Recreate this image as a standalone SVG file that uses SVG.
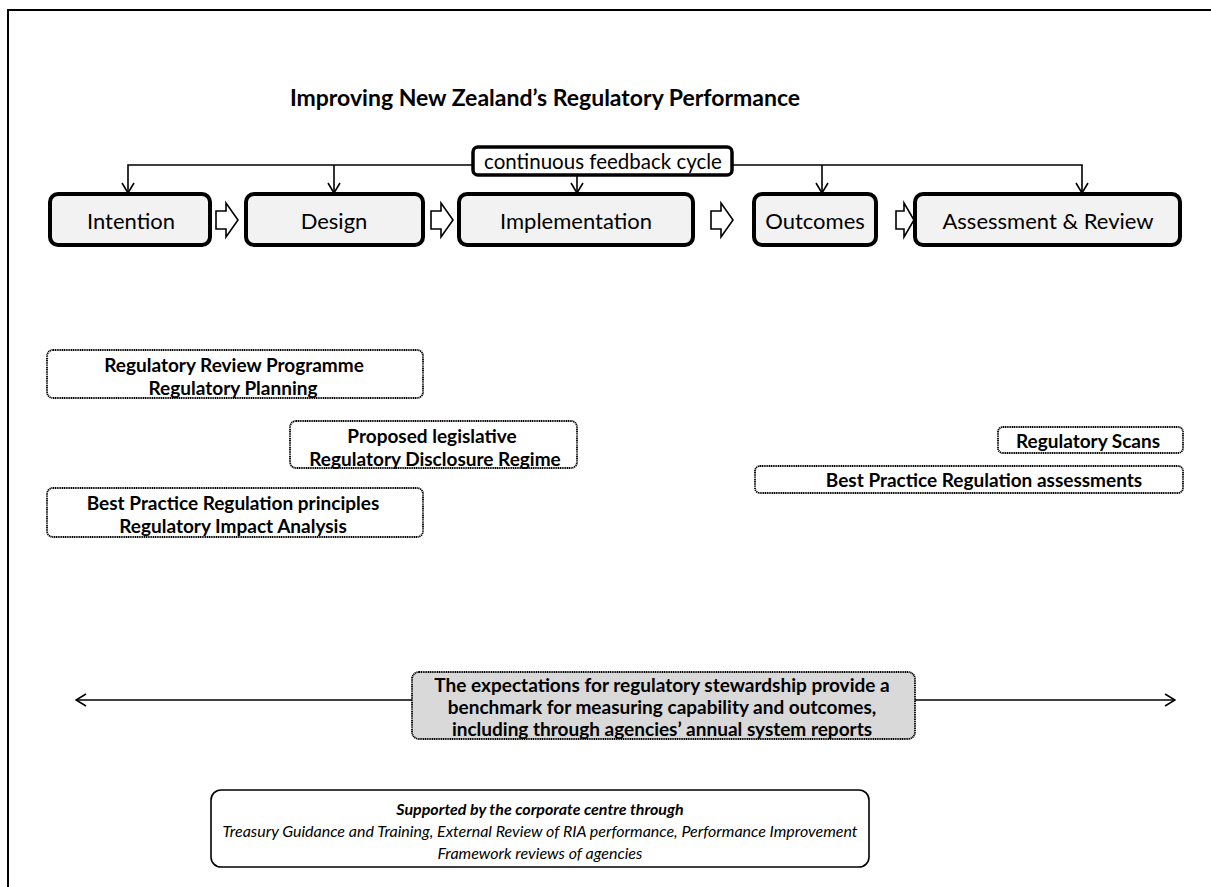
<svg xmlns="http://www.w3.org/2000/svg" width="1211" height="887" viewBox="0 0 1211 887">
<defs>
<style>
text{font-family:Lato,"Open Sans","Liberation Sans",sans-serif;fill:#000;text-anchor:middle;dominant-baseline:central}
.stage rect{fill:#f2f2f2;stroke:#000;stroke-width:4}
.stage text{font-size:22px}
.tool rect{fill:#fff;stroke:#000;stroke-width:1.8;stroke-dasharray:1.2 0.6}
.tool text{font-size:19px;font-weight:bold}
.conn{fill:none;stroke:#000;stroke-width:1.6}
.hollow{fill:#fff;stroke:#000;stroke-width:1.6}
</style>
<marker id="v" viewBox="0 0 12 14" refX="11" refY="7" markerWidth="12" markerHeight="14" markerUnits="userSpaceOnUse" orient="auto">
<path d="M1,1 L11,7 L1,13" fill="none" stroke="#000" stroke-width="1.6"/>
</marker>
</defs>
<rect x="0" y="0" width="1211" height="887" fill="#fff"/>
<path d="M8,887 V10 H1211" fill="none" stroke="#000" stroke-width="2"/>
<text x="545" y="97" font-size="23" font-weight="bold">Improving New Zealand’s Regulatory Performance</text>

<g id="connectors">
<path class="conn" d="M473,165 H128 V193" marker-end="url(#v)"/>
<path class="conn" d="M334,165 V193" marker-end="url(#v)"/>
<path class="conn" d="M577,175 V193" marker-end="url(#v)"/>
<path class="conn" d="M732,165 H1082 V193" marker-end="url(#v)"/>
<path class="conn" d="M822,165 V193" marker-end="url(#v)"/>
<path class="hollow" d="M216,211 h10 v-8 l12,17 l-12,17 v-8 h-10 z"/>
<path class="hollow" d="M431,211 h10 v-8 l12,17 l-12,17 v-8 h-10 z"/>
<path class="hollow" d="M711,211 h10 v-8 l12,17 l-12,17 v-8 h-10 z"/>
<path class="hollow" d="M896,211 h8 v-8 l10,17 l-10,17 v-8 h-8 z"/>
<path class="conn" d="M412,700 H76" marker-end="url(#v)"/>
<path class="conn" d="M915,700 H1175" marker-end="url(#v)"/>
</g>

<g id="feedback">
<rect x="473" y="147" width="259" height="28" rx="5" fill="#fff" stroke="#000" stroke-width="3.5"/>
<text x="603" y="161" font-size="20.5">continuous feedback cycle</text>
</g>

<g id="intention" class="stage"><rect x="50" y="194" width="160" height="51" rx="8"/><text x="131" y="220">Intention</text></g>
<g id="design" class="stage"><rect x="246" y="194" width="177" height="51" rx="8"/><text x="334" y="220">Design</text></g>
<g id="implementation" class="stage"><rect x="459" y="194" width="234" height="51" rx="8"/><text x="576" y="220">Implementation</text></g>
<g id="outcomes" class="stage"><rect x="754" y="194" width="122" height="51" rx="8"/><text x="815" y="220">Outcomes</text></g>
<g id="assessment" class="stage"><rect x="915" y="194" width="265" height="51" rx="8"/><text x="1048" y="220">Assessment &amp; Review</text></g>

<g id="review-programme" class="tool"><rect x="47" y="350" width="376" height="48" rx="6"/><text x="234" y="364">Regulatory Review Programme</text><text x="233" y="387">Regulatory Planning</text></g>
<g id="disclosure" class="tool"><rect x="290" y="421" width="287" height="47" rx="6"/><text x="432" y="435">Proposed legislative</text><text x="435" y="458">Regulatory Disclosure Regime</text></g>
<g id="bpr-principles" class="tool"><rect x="47" y="488" width="376" height="49" rx="6"/><text x="233" y="502">Best Practice Regulation principles</text><text x="233" y="525">Regulatory Impact Analysis</text></g>
<g id="scans" class="tool"><rect x="998" y="427" width="185" height="26" rx="5"/><text x="1088" y="440">Regulatory Scans</text></g>
<g id="bpr-assessments" class="tool"><rect x="755" y="466" width="428" height="27" rx="5"/><text x="984" y="479">Best Practice Regulation assessments</text></g>

<g id="benchmark" class="tool"><rect x="412" y="672" width="503" height="67" rx="7" style="fill:#d9d9d9"/>
<text x="662" y="684">The expectations for regulatory stewardship provide a</text>
<text x="662" y="706">benchmark for measuring capability and outcomes,</text>
<text x="662" y="728">including through agencies’ annual system reports</text></g>

<g id="support"><rect x="211" y="790" width="658" height="77" rx="10" fill="#fff" stroke="#000" stroke-width="1.6"/>
<text x="540" y="808" font-size="16" font-style="italic" font-weight="bold">Supported by the corporate centre through</text>
<text x="540" y="830" font-size="16" font-style="italic">Treasury Guidance and Training, External Review of RIA performance, Performance Improvement</text>
<text x="540" y="852" font-size="16" font-style="italic">Framework reviews of agencies</text></g>
</svg>
